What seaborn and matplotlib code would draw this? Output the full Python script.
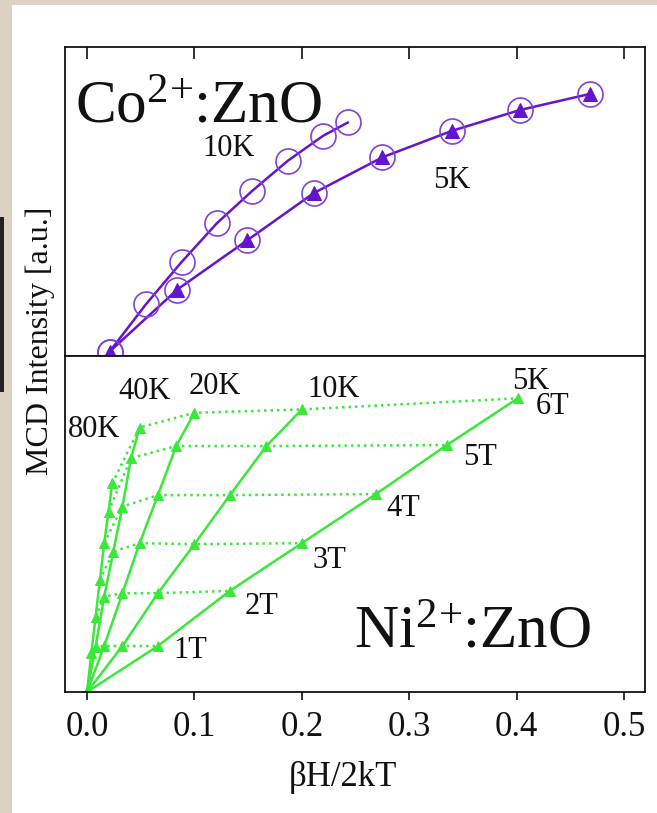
import numpy as np
import pandas as pd
import matplotlib
matplotlib.use("Agg")
import matplotlib.pyplot as plt
import seaborn as sns
from matplotlib.patches import Rectangle

# ---------------- data ----------------
# Co2+:ZnO  (top panel)
co_10K_x = [0.021, 0.055, 0.088, 0.121, 0.154, 0.187, 0.220, 0.243]
co_10K_y = [0.014, 0.168, 0.304, 0.430, 0.535, 0.632, 0.713, 0.756]
co_5K_x = [0.021, 0.084, 0.149, 0.211, 0.275, 0.340, 0.403, 0.468]
co_5K_y = [0.014, 0.215, 0.374, 0.527, 0.643, 0.729, 0.796, 0.848]

# Ni2+:ZnO  (bottom panel), fields 1T..6T for each temperature
ni_fields = [1, 2, 3, 4, 5, 6]
ni_temps = ["5K", "10K", "20K", "40K", "80K"]
ni_x_5K = [0.066, 0.133, 0.200, 0.269, 0.335, 0.401]
ni_x_10K = [0.033, 0.066, 0.100, 0.133, 0.167, 0.200]
ni_x_20K = [0.016, 0.033, 0.049, 0.066, 0.083, 0.100]
ni_x_40K = [0.008, 0.016, 0.0245, 0.033, 0.041, 0.049]
ni_x_80K = [0.004, 0.008, 0.012, 0.016, 0.020, 0.0235]
ni_y_5K = [0.137, 0.301, 0.443, 0.589, 0.735, 0.874]
ni_y_10K = [0.137, 0.294, 0.440, 0.586, 0.732, 0.841]
ni_y_20K = [0.137, 0.294, 0.443, 0.586, 0.732, 0.831]
ni_y_40K = [0.135, 0.284, 0.418, 0.552, 0.696, 0.787]
ni_y_80K = [0.115, 0.224, 0.333, 0.443, 0.537, 0.621]

xticks = [0.0, 0.1, 0.2, 0.3, 0.4, 0.5]
xtick_labels = ["0.0", "0.1", "0.2", "0.3", "0.4", "0.5"]

# ---------------- style ----------------
sns.set_style("ticks")
plt.rcParams["font.family"] = ["Liberation Serif", "DejaVu Serif"]
plt.rcParams["mathtext.fontset"] = "custom"
plt.rcParams["mathtext.rm"] = "Liberation Serif"
plt.rcParams["mathtext.it"] = "Liberation Serif:italic"
plt.rcParams["mathtext.bf"] = "Liberation Serif:bold"
plt.rcParams["text.color"] = "#111111"
plt.rcParams["xtick.color"] = "#111111"
plt.rcParams["xtick.labelcolor"] = "#111111"

PURPLE = "#6414cf"
PURPLE_C = "#8040dc"
GREEN = "#3ae83a"

W, H = 657, 813
fig = plt.figure(figsize=(W / 100, H / 100), dpi=100)
fig.patch.set_facecolor("#dcd2c2")
fig.patches.append(Rectangle((12 / W, 0), 1, (H - 5) / H, transform=fig.transFigure,
                             facecolor="white", edgecolor="none", zorder=-10))
fig.patches.append(Rectangle((0, (H - 392) / H), 4 / W, 175 / H, transform=fig.transFigure,
                             facecolor="#222222", edgecolor="none", zorder=-10))

left, right = 65, 645
top, mid, bot = 47, 356, 692
ax1 = fig.add_axes([left / W, (H - mid) / H, (right - left) / W, (mid - top) / H])
ax2 = fig.add_axes([left / W, (H - bot) / H, (right - left) / W, (bot - mid) / H])

xlim = (-0.0205, 0.5195)

# ---------------- top panel ----------------
co_df = pd.DataFrame({
    "x": co_10K_x + co_5K_x,
    "y": co_10K_y + co_5K_y,
    "T": ["10K"] * len(co_10K_x) + ["5K"] * len(co_5K_x),
})
sns.lineplot(data=co_df, x="x", y="y", units="T", estimator=None, sort=False,
             color=PURPLE, lw=1.8, ax=ax1, legend=False)
sns.lineplot(data=co_df, x="x", y="y", units="T", estimator=None, sort=False,
             color=PURPLE_C, linestyle="none", marker="o", markersize=18,
             markerfacecolor="none", markeredgecolor=PURPLE_C, markeredgewidth=1.2,
             ax=ax1, legend=False)
sns.lineplot(data=co_df[co_df["T"] == "5K"], x="x", y="y", estimator=None, sort=False,
             color=PURPLE, linestyle="none", marker="^", markersize=10,
             markeredgecolor=PURPLE, ax=ax1, legend=False)

ax1.set_xlim(*xlim)
ax1.set_ylim(0, 1)
ax1.text(-0.0116, 0.755, r"Co$^{\mathrm{2\!+}}\!$:ZnO", fontsize=44, ha="left", va="baseline")
ax1.text(0.1318, 0.671, "10K", fontsize=22, ha="center", va="center")
ax1.text(0.3395, 0.568, "5K", fontsize=22, ha="center", va="center")

ax1.set_xticks(xticks)
ax1.tick_params(axis="x", which="both", bottom=False, top=True, labelbottom=False,
                direction="in", length=8.5, width=1.2)
ax1.set_yticks([])
ax1.set_xlabel("")
ax1.set_ylabel("")

# ---------------- bottom panel ----------------
ni_x = [ni_x_5K, ni_x_10K, ni_x_20K, ni_x_40K, ni_x_80K]
ni_y = [ni_y_5K, ni_y_10K, ni_y_20K, ni_y_40K, ni_y_80K]
rows = []
for T, xs, ys in zip(ni_temps, ni_x, ni_y):
    rows.append({"T": T, "B": 0, "x": 0.0, "y": 0.0})
    for B, xv, yv in zip(ni_fields, xs, ys):
        rows.append({"T": T, "B": B, "x": xv, "y": yv})
ni_df = pd.DataFrame(rows)

sns.lineplot(data=ni_df, x="x", y="y", units="T", estimator=None, sort=False,
             color=GREEN, lw=1.8, marker="^", markersize=7, markeredgecolor=GREEN,
             ax=ax2, legend=False)
sns.lineplot(data=ni_df[ni_df["B"] > 0], x="x", y="y", units="B", estimator=None,
             sort=True, color=GREEN, lw=1.8, linestyle=(0, (1, 1.6)),
             ax=ax2, legend=False)

ax2.set_xlim(*xlim)
ax2.set_ylim(0, 1)
temp_labels = [("80K", 0.007, 0.780), ("40K", 0.0536, 0.893), ("20K", 0.1188, 0.908),
               ("10K", 0.2296, 0.899), ("5K", 0.4131, 0.923)]
field_labels = [("6T", 0.4336, 0.851), ("5T", 0.3656, 0.699), ("4T", 0.2948, 0.545),
                ("3T", 0.2259, 0.390), ("2T", 0.1625, 0.253), ("1T", 0.0964, 0.125)]
for s, xv, yv in temp_labels + field_labels:
    ax2.text(xv, yv, s, fontsize=22, ha="center", va="center")
ax2.text(0.3586, 0.131, r"Ni$^{\mathrm{2\!+}}\!$:ZnO", fontsize=44, ha="center", va="baseline")

ax2.set_xticks(xticks)
ax2.set_xticklabels(xtick_labels)
ax2.tick_params(axis="x", which="both", bottom=True, top=False, direction="out",
                length=6, width=1.2, labelsize=25, pad=8)
ax2.set_yticks([])
ax2.set_xlabel("")
ax2.set_ylabel("")

for ax in (ax1, ax2):
    ax.set_facecolor("white")
    for sp in ax.spines.values():
        sp.set_visible(True)
        sp.set_linewidth(1.3)
        sp.set_color("#111111")

fig.text(343 / W, (H - 777) / H, "\u03b2H/2kT", fontsize=25, ha="center", va="center")
fig.text(40 / W, (H - 341) / H, "MCD Intensity [a.u.]", fontsize=23, rotation=90,
         ha="center", va="center")

fig.savefig("out.png", dpi=100, facecolor=fig.get_facecolor())
